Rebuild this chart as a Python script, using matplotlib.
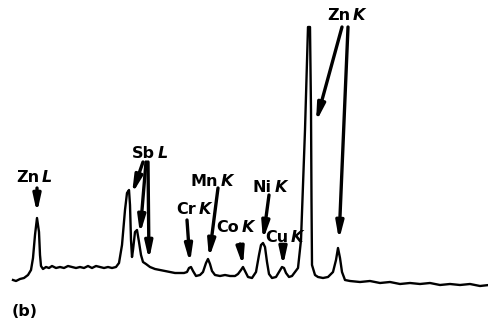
import matplotlib.pyplot as plt

# spectrum trace (channel, intensity)
chan = [13, 16, 20, 24, 28, 31, 33, 35, 37, 39, 40, 41, 43, 46, 49, 52, 56, 60, 64, 68,
        72, 76, 80, 84, 88, 92, 96, 100, 104, 108, 112, 116, 119, 122, 125, 127, 129, 130,
        131, 132, 133, 135, 137, 139, 141, 143, 146, 150, 155, 160, 165, 170, 175, 180,
        184, 187, 189, 191, 193, 196, 200, 203, 206, 208, 210, 212, 215, 220, 225, 230,
        235, 238, 241, 243, 245, 248, 252, 256, 259, 261, 263, 265, 267, 269, 272, 276,
        279, 282, 284, 286, 289, 292, 295, 298, 301, 305, 308, 310, 311, 311.5, 312, 315,
        318, 323, 328, 333, 336, 338, 340, 342, 345, 350, 360, 370, 380, 390, 400, 410,
        420, 430, 440, 450, 460, 470, 480, 489]
counts = [10, 9, 11, 12, 15, 20, 32, 55, 72, 58, 35, 24, 21, 23, 22, 24, 22, 23, 22, 24,
          23, 22, 23, 22, 24, 22, 24, 23, 22, 23, 22, 23, 27, 45, 80, 97, 100, 85,
          50, 33, 40, 58, 60, 48, 35, 28, 26, 23, 21, 20, 19, 18, 17, 17,
          17, 18, 22, 23, 19, 14, 15, 18, 27, 31, 26, 19, 15, 14, 15, 14,
          14, 16, 20, 23, 19, 13, 12, 18, 35, 45, 47, 43, 28, 16, 12, 13,
          18, 23, 22, 17, 13, 14, 18, 22, 50, 160, 263, 263, 180, 90, 25, 15,
          13, 12, 13, 18, 30, 42, 32, 18, 10, 9, 8, 9, 7, 8, 6, 7,
          6, 7, 5, 6, 5, 6, 4, 5]

# labels: element, line, text position
labels = ["Zn", "Sb", "Cr", "Mn", "Co", "Ni", "Cu", "Zn"]
shells = ["L", "L", "K", "K", "K", "K", "K", "K"]
lab_x = [40, 156, 197, 219, 240, 273, 289, 351]
lab_y = [113, 137, 80, 108, 63, 103, 52, 275]

# arrows (tail -> head)
arrows = [((37, 102), (37, 77)),
          ((143, 128), (132, 96)),
          ((146, 128), (140, 56)),
          ((148, 128), (149, 30)),
          ((187, 70), (190, 27)),
          ((218, 102), (209, 32)),
          ((240, 46), (243, 24)),
          ((269, 95), (263, 50)),
          ((283, 44), (283, 24)),
          ((342, 263), (316, 168)),
          ((348, 263), (339, 50))]

fig = plt.figure(figsize=(4.89, 3.33), dpi=100)
ax = fig.add_axes([0, 0, 1, 1])
ax.plot(chan, counts, color="black", lw=1.7, solid_joinstyle="round")

font = "DejaVu Sans"
fs = 11.5
for el, sh, x, y in zip(labels, shells, lab_x, lab_y):
    ax.text(x - 1, y, el, ha="right", va="center", fontsize=fs, fontweight="bold",
            family=font)
    ax.text(x + 2, y, sh, ha="left", va="center", fontsize=fs, fontweight="bold",
            fontstyle="italic", family=font)

for (x0, y0), (x1, y1) in arrows:
    ax.annotate("", xy=(x1, y1), xytext=(x0, y0),
                arrowprops=dict(arrowstyle="-|>,head_width=0.22,head_length=1.0",
                                color="black", lw=2.4, shrinkA=0, shrinkB=0))

ax.text(12, -22, "(b)", ha="left", va="center", fontsize=fs, fontweight="bold",
        family=font)

ax.set_xlim(0, 489)
ax.set_ylim(-43, 290)
ax.axis("off")
fig.savefig("out.png", dpi=100)
